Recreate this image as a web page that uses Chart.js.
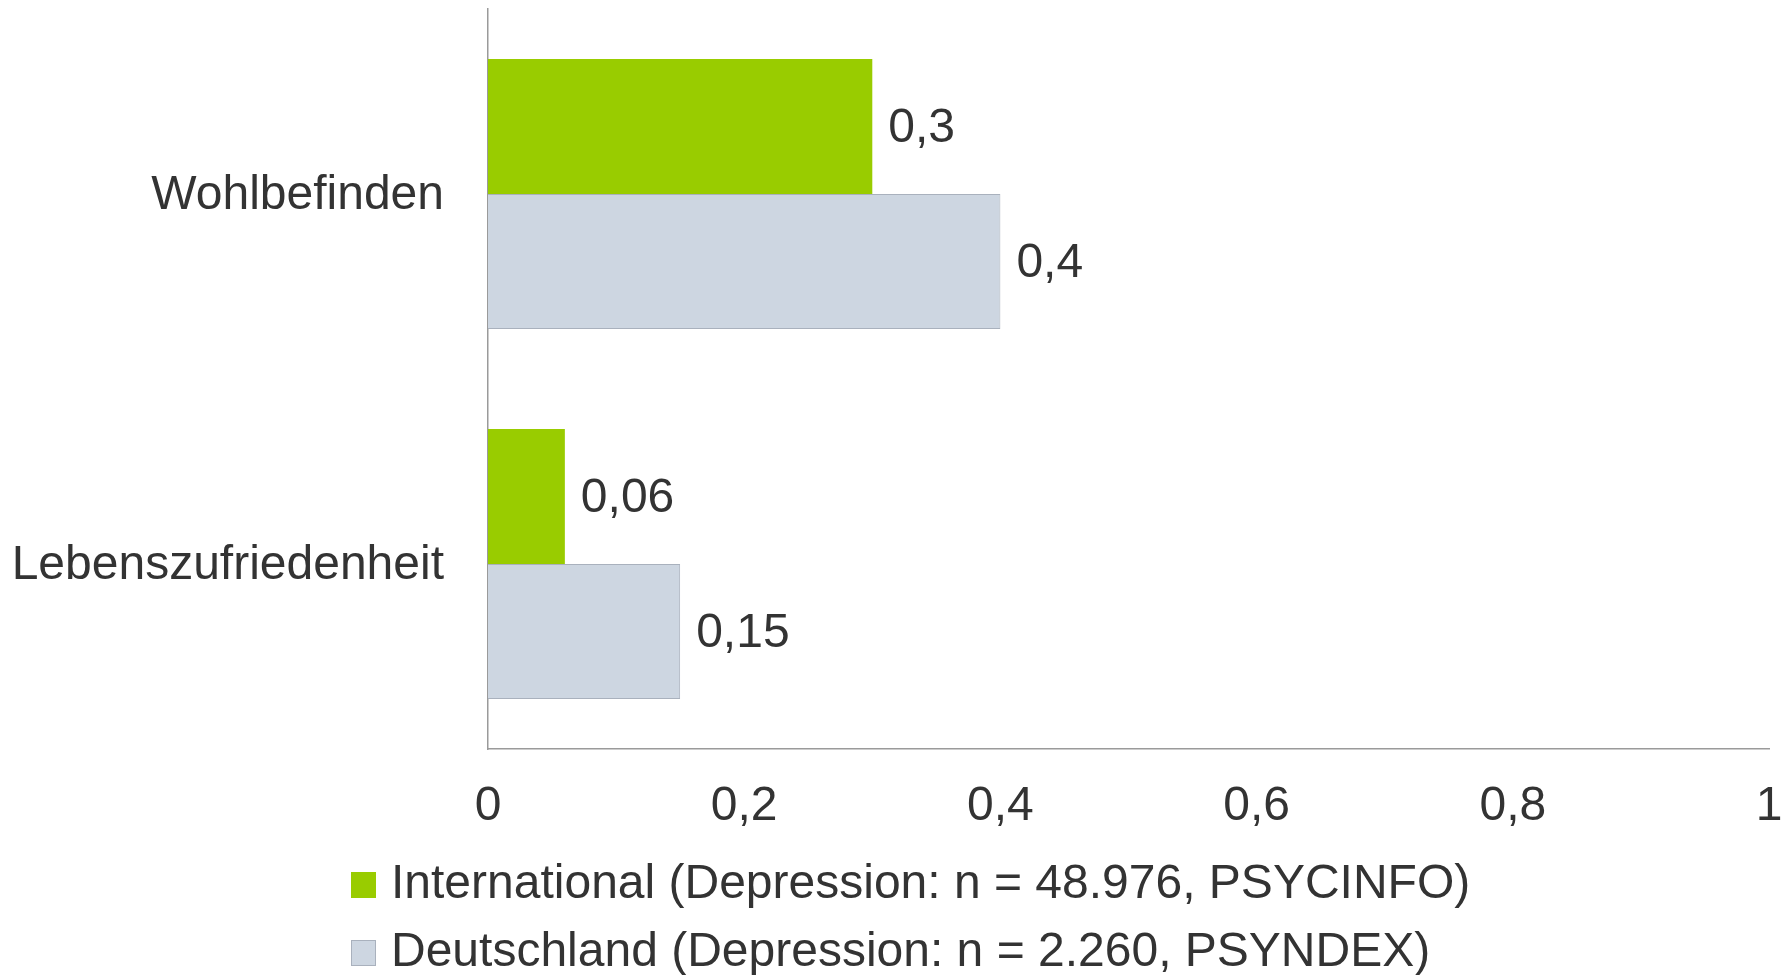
<!DOCTYPE html>
<html>
<head>
<meta charset="utf-8">
<script src="https://cdn.jsdelivr.net/npm/chart.js@4.4.1/dist/chart.umd.min.js"></script>
<style>
html, body { margin: 0; padding: 0; background: #fff; }
</style>
</head>
<body>
<canvas id="mycanvas" width="1791" height="975"></canvas>
<script>
var categories = ['Wohlbefinden', 'Lebenszufriedenheit'];
var seriesNames = ['International (Depression: n = 48.976, PSYCINFO)', 'Deutschland (Depression: n = 2.260, PSYNDEX)'];
var international = [0.3, 0.06];
var deutschland = [0.4, 0.15];
var xTicks = [0, 0.2, 0.4, 0.6, 0.8, 1];

var GREEN = '#99CC00';
var GRAY = '#CDD6E1';
var GRAY_LINE = '#A9B1BD';
var TEXT = '#333333';
var FONT = '"Liberation Sans", Arial, sans-serif';

function comma(v) {
	return String(Math.round(v * 100) / 100).replace('.', ',');
}

// legend swatch, drawn off-centre so the text sits closer to the box
function swatch(fill, stroke) {
	var c = document.createElement('canvas');
	c.width = 35;
	c.height = 26;
	var g = c.getContext('2d');
	g.fillStyle = fill;
	g.fillRect(8, 0, 25, 26);
	if (stroke) {
		g.strokeStyle = stroke;
		g.lineWidth = 1;
		g.strokeRect(8.5, 0.5, 24, 25);
	}
	return c;
}
var swatches = [swatch(GREEN), swatch(GRAY, GRAY_LINE)];

var valueLabels = {
	id: 'valueLabels',
	afterDatasetsDraw: function(chart) {
		var ctx = chart.ctx;
		ctx.save();
		ctx.font = '48px ' + FONT;
		ctx.fillStyle = TEXT;
		ctx.textAlign = 'left';
		ctx.textBaseline = 'middle';
		chart.data.datasets.forEach(function(ds, i) {
			chart.getDatasetMeta(i).data.forEach(function(bar, j) {
				ctx.fillText(comma(ds.data[j]), bar.x + 16, bar.y + 2);
			});
		});
		ctx.restore();
	}
};

// legend rows start under the y axis labels, not at the canvas edge
var legendShift = {
	id: 'legendShift',
	afterLayout: function(chart) {
		var lg = chart.legend;
		if (!lg) return;
		lg.left = 334;
		lg.top += 12;
		lg.bottom += 12;
	}
};

Chart.defaults.font.family = FONT;
Chart.defaults.font.size = 48;
Chart.defaults.color = TEXT;

var chartdata = {
	labels: categories,
	datasets: [
		{
			label: seriesNames[0],
			backgroundColor: GREEN,
			borderWidth: 0,
			data: international,
			barPercentage: 1,
			categoryPercentage: 0.73
		},
		{
			label: seriesNames[1],
			backgroundColor: GRAY,
			borderColor: GRAY_LINE,
			borderWidth: 1,
			data: deutschland,
			barPercentage: 1,
			categoryPercentage: 0.73
		}
	]
};

var ctx = document.getElementById('mycanvas');

var barGraph = new Chart(ctx, {
	type: 'bar',
	data: chartdata,
	plugins: [valueLabels, legendShift],
	options: {
		responsive: false,
		animation: false,
		indexAxis: 'y',
		layout: {
			autoPadding: false,
			padding: { left: 15, right: 22, top: 9, bottom: 0 }
		},
		scales: {
			x: {
				type: 'linear',
				min: 0,
				max: 1,
				afterBuildTicks: function(s) {
					s.ticks = xTicks.map(function(v) { return { value: v }; });
				},
				afterFit: function(s) {
					s.height = 80;
					s.paddingLeft = 0;
					s.paddingRight = 0;
				},
				ticks: {
					padding: 29,
					color: TEXT,
					callback: function(v) { return comma(v); }
				},
				grid: { display: false, drawTicks: false },
				border: { color: '#9A9A9A', width: 1.5 }
			},
			y: {
				afterFit: function(s) {
					s.width = 473;
					s.paddingTop = 0;
					s.paddingBottom = 0;
				},
				ticks: { padding: 44, labelOffset: 2, color: TEXT },
				grid: { display: false, drawTicks: false },
				border: { color: '#9A9A9A', width: 1.5 }
			}
		},
		plugins: {
			tooltip: { enabled: false },
			legend: {
				position: 'bottom',
				align: 'start',
				labels: {
					usePointStyle: true,
					pointStyleWidth: 13,
					padding: 20,
					color: TEXT,
					font: { size: 48 },
					generateLabels: function(chart) {
						return Chart.defaults.plugins.legend.labels.generateLabels(chart).map(function(item, i) {
							item.pointStyle = swatches[i];
							return item;
						});
					}
				}
			}
		}
	}
});
</script>
</body>
</html>
